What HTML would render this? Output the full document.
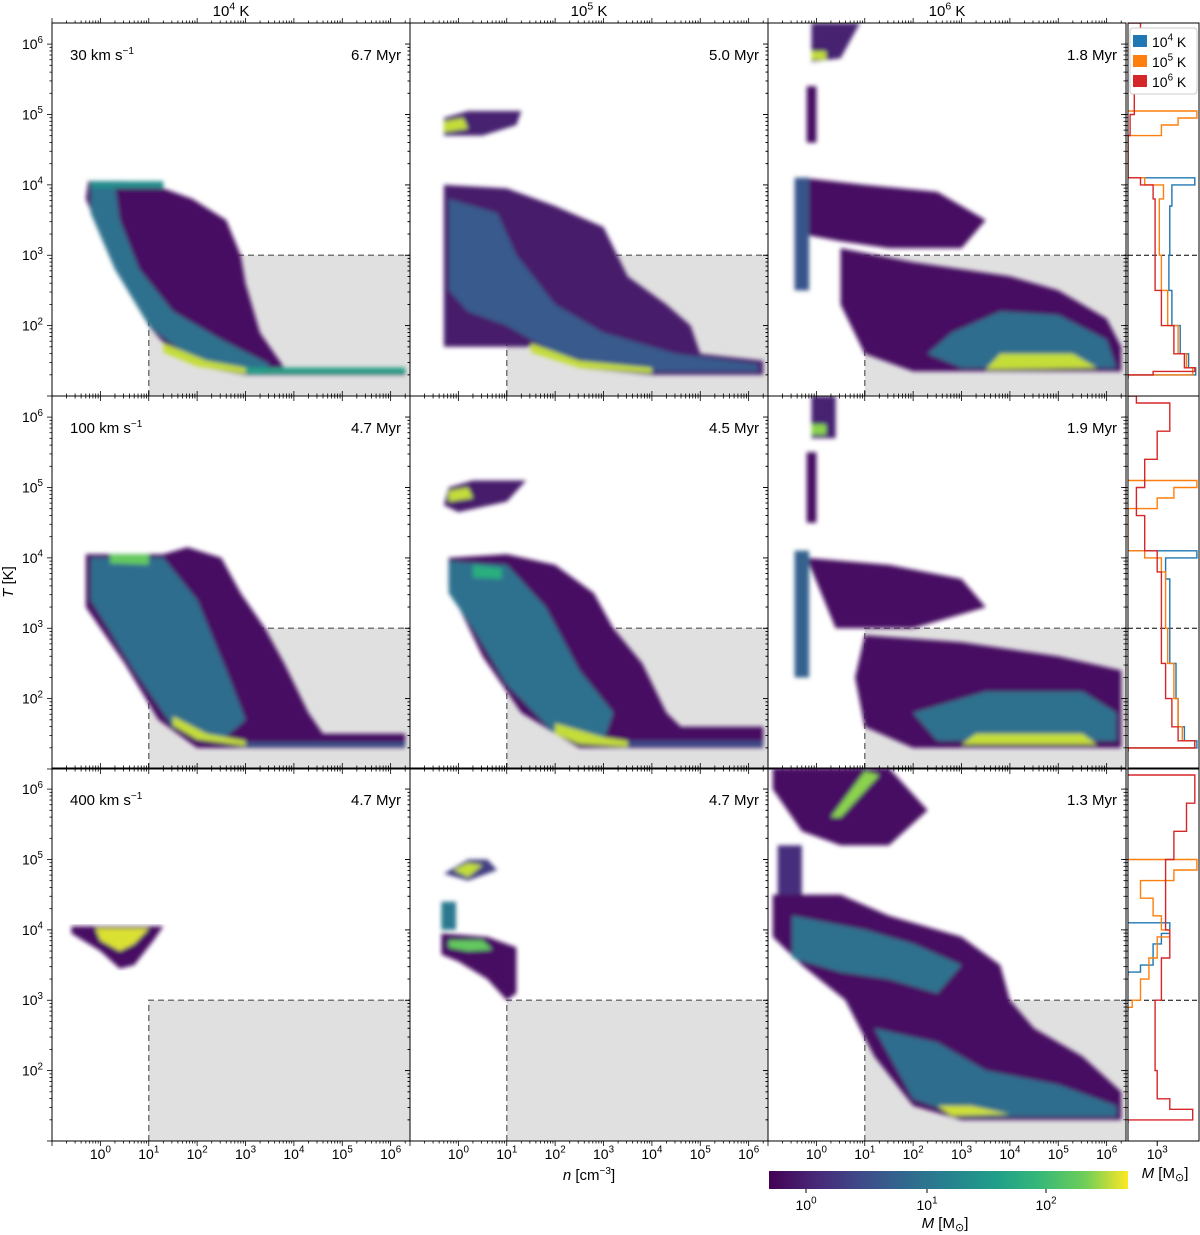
<!DOCTYPE html>
<html><head><meta charset="utf-8"><style>
body{margin:0;background:#fff}
svg{display:block;font-family:"Liberation Sans","DejaVu Sans",sans-serif}
</style></head><body>
<svg id="fig" width="1200" height="1235" viewBox="0 0 1200 1235" xmlns="http://www.w3.org/2000/svg">
<defs>
<filter id="bl" x="-5%" y="-5%" width="110%" height="110%"><feGaussianBlur stdDeviation="2.2"/></filter>
<linearGradient id="vir" x1="0" x2="1" y1="0" y2="0">
<stop offset="0" stop-color="#440154"/><stop offset="0.13" stop-color="#482878"/><stop offset="0.25" stop-color="#3e4989"/><stop offset="0.38" stop-color="#31688e"/><stop offset="0.5" stop-color="#26828e"/><stop offset="0.63" stop-color="#1f9e89"/><stop offset="0.75" stop-color="#35b779"/><stop offset="0.88" stop-color="#6ece58"/><stop offset="1" stop-color="#fde725"/>
</linearGradient>
</defs>
<g id="g"></g>
</svg>
<script>
// ---- data ----
const rowSpeeds = ["30", "100", "400"];
const colTemps = ["4", "5", "6"];
const panelTimes = [["6.7","5.0","1.8"],["4.7","4.5","1.9"],["4.7","4.7","1.3"]];
const xTickExps = [0,1,2,3,4,5,6];
const yTickExps = [2,3,4,5,6];
// blobs: [level(0..1), [[log n, log T], ...]]
const blobs00 = [[0.05,[[-0.25,4.05],[0.5,4.05],[1.3,3.95],[1.9,3.8],[2.6,3.5],[2.9,3.0],[3.0,2.6],[3.3,1.9],[3.8,1.4],[6.3,1.4],[6.3,1.3],[3.0,1.3],[2.2,1.4],[1.5,1.6],[1.0,2.0],[0.5,2.6],[0.0,3.3],[-0.3,3.8]]],
 [0.42,[[-0.2,4.05],[0.3,4.0],[0.4,3.5],[0.8,2.8],[1.5,2.2],[2.5,1.8],[3.5,1.45],[3.3,1.3],[2.0,1.45],[1.0,2.0],[0.3,2.8],[-0.2,3.6]]],
 [0.55,[[-0.2,4.05],[1.3,4.05],[1.3,3.95],[-0.2,3.95]]],
 [0.65,[[3.0,1.4],[6.3,1.4],[6.3,1.32],[3.0,1.32]]],
 [0.95,[[1.3,1.75],[2.2,1.5],[3.0,1.4],[3.0,1.32],[2.0,1.42],[1.3,1.62]]]];
const blobs01 = [[0.1,[[-0.3,4.95],[0.2,5.05],[1.3,5.05],[1.2,4.85],[0.5,4.7],[-0.3,4.7]]],
 [0.95,[[-0.3,4.9],[0.1,4.95],[0.2,4.8],[-0.3,4.75]]],
 [0.08,[[-0.3,4.0],[1.0,3.95],[2.0,3.7],[3.0,3.4],[3.5,2.7],[4.3,2.3],[4.8,2.0],[5.0,1.6],[6.3,1.5],[6.3,1.3],[4.0,1.3],[2.5,1.4],[1.5,1.7],[0.8,1.7],[-0.3,1.7]]],
 [0.32,[[-0.2,3.8],[0.8,3.6],[1.2,3.0],[2.0,2.3],[3.0,1.9],[4.5,1.6],[6.2,1.45],[6.2,1.35],[3.5,1.35],[2.0,1.6],[1.0,2.0],[0.2,2.2],[-0.2,2.5]]],
 [0.95,[[1.5,1.75],[2.5,1.5],[4.0,1.4],[4.0,1.33],[2.5,1.4],[1.5,1.62]]]];
const blobs02 = [[0.1,[[-0.1,6.3],[0.9,6.3],[0.5,5.8],[-0.1,5.75]]],
 [0.95,[[-0.1,5.9],[0.2,5.9],[0.2,5.78],[-0.1,5.78]]],
 [0.05,[[-0.2,5.4],[0.0,5.4],[0.0,4.6],[-0.2,4.6]]],
 [0.05,[[-0.3,4.1],[1.0,4.0],[2.5,3.9],[3.5,3.5],[3.0,3.1],[1.5,3.1],[0.5,3.2],[-0.3,3.3]]],
 [0.3,[[-0.45,4.1],[-0.15,4.1],[-0.15,2.5],[-0.45,2.5]]],
 [0.05,[[0.5,3.1],[2.0,2.9],[3.0,2.8],[4.0,2.7],[5.0,2.5],[6.0,2.1],[6.3,1.7],[6.3,1.35],[2.0,1.35],[1.0,1.6],[0.5,2.3]]],
 [0.4,[[2.8,1.9],[3.8,2.2],[5.0,2.15],[6.0,1.8],[6.2,1.4],[3.0,1.4],[2.3,1.6]]],
 [0.95,[[3.8,1.6],[5.3,1.6],[5.8,1.4],[3.5,1.38]]]];
const blobs10 = [[0.05,[[-0.3,4.05],[1.3,4.05],[1.8,4.15],[2.5,4.0],[2.9,3.5],[3.4,3.0],[3.8,2.5],[4.3,1.8],[4.6,1.5],[6.3,1.5],[6.3,1.3],[2.0,1.3],[1.2,1.7],[0.5,2.5],[-0.3,3.3]]],
 [0.4,[[-0.2,4.0],[1.3,4.0],[2.0,3.4],[2.6,2.4],[3.0,1.7],[2.5,1.4],[1.5,1.6],[0.7,2.4],[-0.2,3.4]]],
 [0.85,[[0.2,4.05],[1.0,4.05],[1.0,3.9],[0.2,3.92]]],
 [0.95,[[1.5,1.75],[2.2,1.5],[3.0,1.4],[3.0,1.33],[2.0,1.42],[1.5,1.62]]],
 [0.3,[[3.0,1.38],[6.3,1.38],[6.3,1.32],[3.0,1.32]]]];
const blobs11 = [[0.08,[[-0.2,5.0],[0.3,5.1],[1.4,5.1],[1.0,4.8],[0.0,4.65],[-0.3,4.75]]],
 [0.95,[[-0.2,4.95],[0.2,5.0],[0.3,4.85],[-0.2,4.8]]],
 [0.05,[[-0.2,4.0],[1.0,4.05],[2.0,3.9],[2.8,3.5],[3.2,3.0],[3.8,2.5],[4.3,1.8],[4.6,1.6],[6.3,1.6],[6.3,1.3],[2.5,1.3],[1.3,1.8],[0.5,2.6],[-0.2,3.6]]],
 [0.42,[[-0.2,3.95],[1.0,3.9],[1.8,3.3],[2.5,2.4],[3.2,1.8],[3.0,1.4],[2.0,1.5],[1.0,2.2],[0.3,3.0],[-0.2,3.5]]],
 [0.7,[[0.3,3.9],[0.9,3.85],[0.9,3.7],[0.3,3.72]]],
 [0.95,[[2.0,1.65],[3.0,1.45],[3.7,1.38],[3.5,1.32],[2.5,1.36],[2.0,1.5]]],
 [0.25,[[3.5,1.4],[6.3,1.4],[6.3,1.32],[3.5,1.32]]]];
const blobs12 = [[0.1,[[-0.1,6.3],[0.4,6.3],[0.4,5.7],[-0.1,5.7]]],
 [0.9,[[-0.1,5.9],[0.2,5.9],[0.2,5.75],[-0.1,5.75]]],
 [0.05,[[-0.2,5.5],[0.0,5.5],[0.0,4.5],[-0.2,4.5]]],
 [0.05,[[-0.2,4.0],[1.5,3.9],[3.0,3.7],[3.5,3.3],[2.0,3.0],[0.4,3.0]]],
 [0.35,[[-0.45,4.1],[-0.15,4.1],[-0.15,2.3],[-0.45,2.3]]],
 [0.05,[[1.0,2.9],[3.0,2.8],[5.0,2.6],[6.3,2.4],[6.3,1.3],[2.0,1.3],[1.0,1.6],[0.8,2.3]]],
 [0.42,[[2.0,1.8],[3.5,2.1],[5.5,2.1],[6.2,1.8],[6.2,1.4],[2.5,1.4]]],
 [0.95,[[3.3,1.5],[5.5,1.5],[5.8,1.35],[3.0,1.35]]]];
const blobs20 = [[0.05,[[-0.6,4.05],[1.3,4.05],[1.1,3.85],[0.7,3.5],[0.4,3.45],[0.0,3.7],[-0.6,3.95]]],
 [0.97,[[-0.1,4.02],[1.0,4.02],[0.7,3.8],[0.4,3.7],[0.0,3.85]]]];
const blobs21 = [[0.2,[[-0.3,4.8],[0.2,5.0],[0.6,5.0],[0.8,4.85],[0.2,4.7]]],
 [0.95,[[-0.1,4.85],[0.2,4.95],[0.5,4.92],[0.2,4.75]]],
 [0.45,[[-0.35,4.4],[-0.05,4.4],[-0.05,4.0],[-0.35,4.0]]],
 [0.05,[[-0.35,3.95],[0.6,3.9],[1.2,3.75],[1.2,3.1],[1.0,3.0],[0.6,3.3],[0.0,3.55],[-0.35,3.65]]],
 [0.85,[[-0.2,3.85],[0.5,3.85],[0.7,3.72],[0.2,3.7],[-0.2,3.75]]]];
const blobs22 = [[0.05,[[-0.9,6.3],[1.5,6.3],[2.3,5.7],[1.5,5.2],[0.5,5.2],[-0.3,5.4],[-0.9,6.0]]],
 [0.9,[[0.3,5.6],[0.5,5.6],[1.3,6.2],[1.0,6.25]]],
 [0.15,[[-0.8,5.2],[-0.3,5.2],[-0.3,4.3],[-0.8,4.3]]],
 [0.05,[[-0.9,4.5],[0.5,4.5],[1.5,4.2],[3.0,3.9],[3.8,3.5],[4.0,3.0],[4.5,2.6],[5.5,2.2],[6.3,1.7],[6.3,1.3],[3.0,1.3],[2.0,1.5],[1.2,2.2],[0.6,3.0],[-0.3,3.5],[-0.9,3.9]]],
 [0.42,[[-0.5,4.2],[1.0,4.0],[2.0,3.8],[3.0,3.5],[2.5,3.1],[1.5,3.3],[0.5,3.4],[-0.5,3.6]]],
 [0.4,[[1.2,2.6],[2.5,2.4],[3.5,2.0],[5.0,1.8],[6.2,1.5],[6.2,1.35],[3.0,1.35],[2.0,1.6]]],
 [0.96,[[2.5,1.5],[3.2,1.5],[4.0,1.38],[2.8,1.36]]]];
const panelBlobs = [[blobs00,blobs01,blobs02],[blobs10,blobs11,blobs12],[blobs20,blobs21,blobs22]];
// side histograms: [log T start (descending), log M]
const hist0Blue = [[4.1,3.9],[4.0,3.35],[3.7,3.3],[3.0,3.28],[2.5,3.35],[2.0,3.55],[1.6,3.75],[1.4,3.92],[1.3,2.3]];
const hist0Orange = [[5.05,3.95],[4.95,3.5],[4.85,3.1],[4.7,2.3],[4.1,2.7],[4.0,3.15],[3.8,3.05],[3.0,3.1],[2.5,3.25],[2.0,3.5],[1.6,3.7],[1.4,3.85],[1.3,2.3]];
const hist0Red = [[6.3,2.6],[6.0,2.4],[5.4,2.45],[5.0,2.35],[4.7,2.3],[4.1,2.6],[4.0,2.9],[3.8,2.95],[3.0,2.95],[2.5,3.1],[2.0,3.4],[1.6,3.65],[1.4,3.9],[1.35,2.9],[1.3,2.3]];
const hist1Blue = [[4.1,3.95],[4.0,3.2],[3.7,3.3],[3.0,3.3],[2.5,3.45],[2.0,3.5],[1.6,3.65],[1.4,3.95],[1.3,2.3]];
const hist1Orange = [[5.1,3.95],[5.0,3.4],[4.85,3.0],[4.7,2.3],[4.1,2.7],[4.0,3.1],[3.8,3.2],[3.0,3.25],[2.5,3.4],[2.0,3.5],[1.6,3.6],[1.4,3.9],[1.3,2.3]];
const hist1Red = [[6.3,2.5],[6.2,3.3],[5.8,3.0],[5.4,2.7],[5.0,2.5],[4.6,2.7],[4.1,3.0],[3.8,3.1],[3.0,3.1],[2.5,3.2],[2.0,3.35],[1.6,3.5],[1.4,3.9],[1.3,2.3]];
const hist2Blue = [[4.1,3.3],[3.95,3.1],[3.8,2.9],[3.5,2.6],[3.4,2.3]];
const hist2Orange = [[5.0,3.95],[4.85,3.4],[4.7,2.6],[4.45,2.9],[4.2,3.1],[4.0,3.3],[3.9,3.0],[3.6,2.8],[3.3,2.6],[3.0,2.4],[2.9,2.3]];
const hist2Red = [[6.2,3.9],[5.8,3.7],[5.4,3.4],[5.0,3.2],[4.5,3.2],[4.0,3.3],[3.6,3.1],[3.0,2.95],[2.5,2.95],[2.0,3.0],[1.6,3.3],[1.45,3.85],[1.3,2.3]];
const sideHists = [[hist0Blue,hist0Orange,hist0Red],[hist1Blue,hist1Orange,hist1Red],[hist2Blue,hist2Orange,hist2Red]];
const histColors = ["#1f77b4","#ff7f0e","#d62728"];

// ---- layout ----
const NS="http://www.w3.org/2000/svg";
const G=document.getElementById('g');
const colX=[52,410,768], PW=358, rowY=[23,396,768], PH=373, SX=1128, SW=71;
const XMIN=-1, XMAX=6.4, YMIN=1.0, YMAX=6.3, MMIN=2.3, MMAX=4.0;
const xs=(c,v)=>colX[c]+(v-XMIN)/(XMAX-XMIN)*PW;
const ys=(r,v)=>rowY[r]+(YMAX-v)/(YMAX-YMIN)*PH;
const ms=v=>SX+(v-MMIN)/(MMAX-MMIN)*SW;
function mk(t,a,p){const e=document.createElementNS(NS,t);for(const k in a)e.setAttribute(k,a[k]);(p||G).appendChild(e);return e;}
const vs=[[68,1,84],[72,40,120],[62,73,137],[49,104,142],[38,130,142],[31,158,137],[53,183,121],[110,206,88],[253,231,37]];
function vir(t){t=Math.max(0,Math.min(1,t))*8;const i=Math.min(7,Math.floor(t)),f=t-i;const a=vs[i],b=vs[i+1];return `rgb(${a.map((x,j)=>Math.round(x+(b[j]-x)*f)).join(',')})`;}
function sup(p,x,y,base,exp,anchor,size,tail){size=size||13;const t=mk('text',{x:x,y:y,'font-size':size,'text-anchor':anchor||'middle'},p);t.appendChild(document.createTextNode(base));const s=mk('tspan',{'font-size':size*0.7,dy:-size*0.45},t);s.textContent=exp;if(tail){const k=mk('tspan',{dy:size*0.45},t);k.textContent=tail;}return t;}

for(let r=0;r<3;r++){for(let c=0;c<3;c++){
  const pg=mk('g',{});
  
  
  const cid=`cp${r}${c}`;
  const cp=mk('clipPath',{id:cid},pg);mk('rect',{x:colX[c],y:rowY[r],width:PW,height:PH},cp);
  const box=mk('rect',{x:xs(c,1),y:ys(r,3),width:colX[c]+PW-xs(c,1),height:rowY[r]+PH-ys(r,3),fill:'#e0e0e0'},pg);
  
  
  mk('path',{d:`M${xs(c,1)},${rowY[r]+PH}V${ys(r,3)}H${colX[c]+PW}`,fill:'none',stroke:'#777','stroke-width':1.5,'stroke-dasharray':'6,4'},pg);
  const hg=mk('g',{'clip-path':`url(#${cid})`,filter:'url(#bl)'},pg);
  
  
  panelBlobs[r][c].forEach(b=>{
    const pts=b[1].map(p=>`${xs(c,p[0]).toFixed(1)},${ys(r,p[1]).toFixed(1)}`).join(' ');
    const pl=mk('polygon',{points:pts,fill:vir(b[0])},hg);
    
    
  });
  mk('rect',{x:colX[c],y:rowY[r],width:PW,height:PH,fill:'none',stroke:'#000','stroke-width':1},pg);
  for(let d=-1;d<=6;d++){for(let k=1;k<10;k++){const v=d+Math.log10(k);if(v<XMIN||v>XMAX)continue;const x=xs(c,v),L=k==1?5:2.5;
    mk('line',{x1:x,x2:x,y1:rowY[r]+PH,y2:rowY[r]+PH+L,stroke:'#000','stroke-width':0.8},pg);
    mk('line',{x1:x,x2:x,y1:rowY[r],y2:rowY[r]-L,stroke:'#000','stroke-width':0.8},pg);}}
  for(let d=1;d<=6;d++){for(let k=1;k<10;k++){const v=d+Math.log10(k);if(v<YMIN||v>YMAX)continue;const y=ys(r,v),L=k==1?5:2.5;
    mk('line',{x1:colX[c],x2:colX[c]-L,y1:y,y2:y,stroke:'#000','stroke-width':0.8},pg);
    mk('line',{x1:colX[c]+PW,x2:colX[c]+PW-L,y1:y,y2:y,stroke:'#000','stroke-width':0.8},pg);}}
  if(r==2){xTickExps.forEach(e=>{const t=sup(pg,xs(c,e),1159,'10',e,'middle',14);});}
  if(c==0){yTickExps.forEach(e=>{const t=sup(pg,43,ys(r,e)+5,'10',e,'end',14);});
    const sp=mk('text',{x:70,y:rowY[r]+37,'font-size':15},pg);sp.textContent=rowSpeeds[r]+' km s';const ss=mk('tspan',{'font-size':10,dy:-6},sp);ss.textContent='−1';
    }
  const tt=mk('text',{x:colX[c]+PW-9,y:rowY[r]+37,'font-size':15,'text-anchor':'end'},pg);tt.textContent=panelTimes[r][c]+' Myr';
  
}
  const sg=mk('g',{});
  
  
  const scid=`sc${r}`;const sc=mk('clipPath',{id:scid},sg);mk('rect',{x:SX,y:rowY[r],width:SW,height:PH},sc);
  mk('line',{x1:SX,x2:SX+SW,y1:ys(r,3),y2:ys(r,3),stroke:'#000','stroke-dasharray':'5,3','stroke-width':1},sg);
  sideHists[r].forEach((h,i)=>{
    let d=`M${SX},${ys(r,h[0][0]).toFixed(1)}`;
    for(let j=0;j<h.length;j++){const y1=j+1<h.length?ys(r,h[j+1][0]):ys(r,h[j][0]-0.05);d+=`H${ms(h[j][1]).toFixed(1)}V${y1.toFixed(1)}`;}
    d+=`H${SX}`;
    const p=mk('path',{d:d,fill:'none',stroke:histColors[i],'stroke-width':1.4,'clip-path':`url(#${scid})`},sg);
    
    
  });
  mk('rect',{x:SX,y:rowY[r],width:SW,height:PH,fill:'none',stroke:'#000'},sg);
  for(let d=1;d<=6;d++){for(let k=1;k<10;k++){const v=d+Math.log10(k);if(v<YMIN||v>YMAX)continue;const y=ys(r,v),L=k==1?5:2.5;
    mk('line',{x1:SX,x2:SX-L,y1:y,y2:y,stroke:'#000','stroke-width':0.8},sg);}}
}
mk('line',{x1:ms(3),x2:ms(3),y1:1141,y2:1146,stroke:'#000'});
sup(G,ms(3),1159,'10','3','middle',14);
const lg=mk('g',{});


mk('rect',{x:1130,y:28,width:67,height:66,fill:'#fff',stroke:'#ccc',rx:3},lg);
colTemps.forEach((e,i)=>{const y=35+i*20;
  const s=mk('rect',{x:1133,y:y,width:14,height:12,fill:histColors[i]},lg);
  
  const t=sup(lg,1152,y+12,'10',e,'start',14,' K');
  });
colTemps.forEach((e,c)=>{const t=sup(G,colX[c]+PW/2,16,'10',e,'middle',15,' K');
  });
const yl=mk('text',{x:0,y:0,'font-size':15,'text-anchor':'middle',transform:'translate(13,582) rotate(-90)'});
yl.innerHTML='<tspan font-style="italic">T</tspan> [K]';

const xl=mk('text',{x:589,y:1180,'font-size':15,'text-anchor':'middle'});
xl.innerHTML='<tspan font-style="italic">n</tspan> [cm<tspan font-size="10" dy="-6">−3</tspan><tspan dy="6">]</tspan>';

const ml=mk('text',{x:1165,y:1178,'font-size':15,'text-anchor':'middle'});
ml.innerHTML='<tspan font-style="italic">M</tspan> [M<tspan font-size="11" dy="3">⊙</tspan><tspan dy="-3">]</tspan>';

const cb=mk('rect',{x:769,y:1171,width:359,height:18,fill:'url(#vir)'});

[[0,806],[1,927],[2,1046]].forEach(a=>{mk('line',{x1:a[1],x2:a[1],y1:1189,y2:1193,stroke:'#000'});const t=sup(G,a[1],1210,'10',a[0],'middle',14);});
const cl=mk('text',{x:945,y:1228,'font-size':15,'text-anchor':'middle'});
cl.innerHTML='<tspan font-style="italic">M</tspan> [M<tspan font-size="11" dy="3">⊙</tspan><tspan dy="-3">]</tspan>';

</script>
</body></html>
